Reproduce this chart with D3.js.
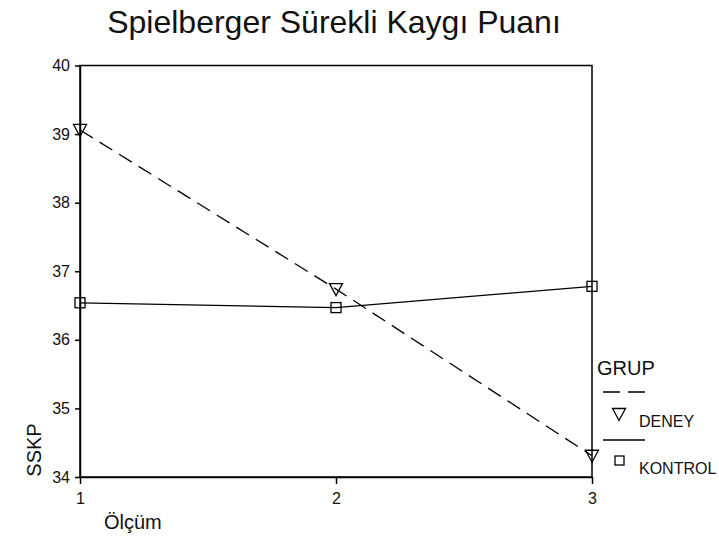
<!DOCTYPE html>
<html>
<head>
<meta charset="utf-8">
<script src="https://cdn.jsdelivr.net/npm/d3@7"></script>
<style>
  body { margin: 0; background: #fff; }
  svg { font-family: "Liberation Sans", Arial, sans-serif; }
</style>
</head>
<body>
<svg id="canvas"></svg>
<script>
const olcum = [1, 2, 3];
const deney = [39.06, 36.74, 34.31];
const kontrol = [36.54, 36.47, 36.78];
const yTicks = [34, 35, 36, 37, 38, 39, 40];
const xTicks = [1, 2, 3];

const width = 719;
const height = 560;

const canvas = d3.select("#canvas").attr("width", width).attr("height", height);

const xScale = d3.scaleLinear().domain([1, 3]).range([80, 592]);
const yScale = d3.scaleLinear().domain([34, 40]).range([477, 65.5]);

// frame
canvas
  .append("rect")
  .attr("x", xScale(1))
  .attr("y", yScale(40))
  .attr("width", xScale(3) - xScale(1))
  .attr("height", yScale(34) - yScale(40))
  .attr("fill", "none")
  .attr("stroke", "#000")
  .attr("stroke-width", 1.5);

const xAxis = d3.axisBottom(xScale).tickValues(xTicks).tickFormat(d3.format("d"))
  .tickSize(7).tickSizeOuter(0).tickPadding(9);
const yAxis = d3.axisLeft(yScale).tickValues(yTicks).tickFormat(d3.format("d"))
  .tickSize(5).tickSizeOuter(0).tickPadding(5);

const gx = canvas.append("g").attr("transform", `translate(0, ${yScale(34)})`).call(xAxis);
const gy = canvas.append("g").attr("transform", `translate(${xScale(1)}, 0)`).call(yAxis);

[gx, gy].forEach((g) => {
  g.selectAll("path, line").attr("stroke", "#000").attr("stroke-width", 1.5);
  g.selectAll("text").attr("fill", "#111").style("font-size", "16px")
    .style("font-family", '"Liberation Sans", Arial, sans-serif');
});

const line = d3.line().x((d, i) => xScale(olcum[i])).y((d) => yScale(d));

canvas.append("path").datum(deney).attr("d", line)
  .attr("fill", "none").attr("stroke", "#000").attr("stroke-width", 1.3)
  .attr("stroke-dasharray", "15,8");

canvas.append("path").datum(kontrol).attr("d", line)
  .attr("fill", "none").attr("stroke", "#000").attr("stroke-width", 1.3);

const tri = "M-6.5,-5.5L6.5,-5.5L0,6.5Z";

canvas.selectAll(".tri").data(deney).enter().append("path")
  .attr("class", "tri")
  .attr("d", tri)
  .attr("transform", (d, i) => `translate(${xScale(olcum[i])}, ${yScale(d)})`)
  .attr("fill", "none").attr("stroke", "#000").attr("stroke-width", 1.3);

canvas.selectAll(".sq").data(kontrol).enter().append("rect")
  .attr("class", "sq")
  .attr("x", (d, i) => xScale(olcum[i]) - 5)
  .attr("y", (d) => yScale(d) - 5)
  .attr("width", 10).attr("height", 10)
  .attr("fill", "none").attr("stroke", "#000").attr("stroke-width", 1.3);

// titles
canvas.append("text").attr("x", 334).attr("y", 33).attr("text-anchor", "middle")
  .style("font-size", "32px").attr("fill", "#111").text("Spielberger Sürekli Kaygı Puanı");

canvas.append("text").attr("transform", "translate(41, 450) rotate(-90)")
  .attr("text-anchor", "middle").style("font-size", "20px").attr("fill", "#111").text("SSKP");

canvas.append("text").attr("x", 104).attr("y", 529)
  .style("font-size", "20px").attr("fill", "#111").text("Ölçüm");

// legend
const legend = canvas.append("g");
legend.append("text").attr("x", 597).attr("y", 375).style("font-size", "20px").attr("fill", "#111").text("GRUP");
legend.append("line").attr("x1", 603).attr("x2", 645).attr("y1", 392).attr("y2", 392)
  .attr("stroke", "#000").attr("stroke-width", 1.3).attr("stroke-dasharray", "17,8");
legend.append("path").attr("d", tri).attr("transform", "translate(619, 414)")
  .attr("fill", "none").attr("stroke", "#000").attr("stroke-width", 1.3);
legend.append("text").attr("x", 639).attr("y", 427).style("font-size", "16px").attr("fill", "#111").text("DENEY");
legend.append("line").attr("x1", 603).attr("x2", 645).attr("y1", 440).attr("y2", 440)
  .attr("stroke", "#000").attr("stroke-width", 1.3);
legend.append("rect").attr("x", 615).attr("y", 456).attr("width", 9).attr("height", 9)
  .attr("fill", "none").attr("stroke", "#000").attr("stroke-width", 1.3);
legend.append("text").attr("x", 639).attr("y", 474).style("font-size", "16px").attr("fill", "#111").text("KONTROL");
</script>
</body>
</html>
